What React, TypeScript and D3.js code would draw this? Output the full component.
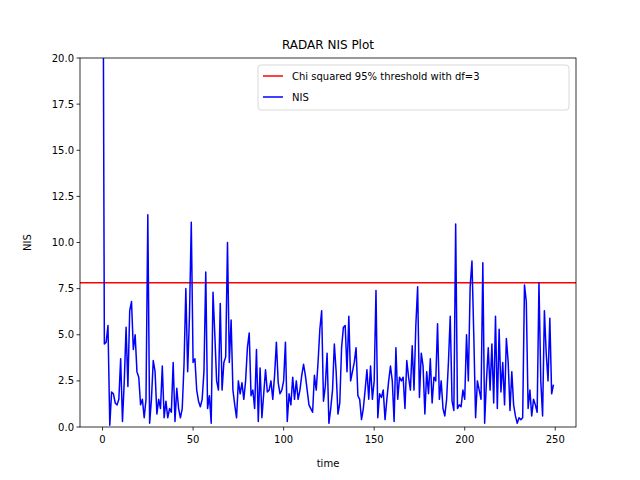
import * as d3 from 'd3';

const NIS: number[] = [
  35, 4.5, 4.6, 5.5, 0.1, 1.9, 1.8, 1.3, 1.2, 1.5, 3.7, 0.3, 2.5, 5.4, 2.2, 6.3, 6.8, 4.2, 5.0, 3.0,
  2.7, 1.2, 1.5, 0.5, 1.5, 11.5, 0.2, 1.5, 3.6, 3.0, 0.7, 1.5, 1.0, 3.3, 0.5, 1.4, 0.5, 1.0, 0.8, 3.5,
  0.3, 2.1, 1.0, 0.5, 1.0, 3.4, 7.5, 3.0, 6.0, 11.1, 3.5, 3.7, 2.0, 1.4, 1.1, 1.5, 3.0, 8.4, 1.0, 1.7,
  0.2, 7.3, 5.0, 2.5, 2.0, 6.7, 2.0, 3.5, 3.8, 10.0, 3.5, 5.8, 2.0, 1.2, 0.5, 2.5, 1.8, 2.4, 1.5, 2.5,
  4.3, 5.1, 1.7, 2.0, 1.0, 4.2, 0.3, 3.2, 0.5, 1.8, 3.1, 1.9, 2.0, 2.5, 1.5, 2.8, 4.6, 2.4, 1.8, 2.0,
  2.5, 4.6, 0.3, 1.8, 1.2, 2.7, 1.5, 2.5, 1.5, 2.0, 2.8, 3.4, 2.8, 2.0, 1.2, 1.0, 0.8, 2.8, 2.0, 3.5,
  5.3, 6.3, 1.4, 2.2, 4.0, 0.2, 1.0, 2.0, 4.5, 3.0, 0.7, 1.3, 4.3, 5.4, 5.5, 3.0, 6.0, 2.5, 3.0, 3.5,
  4.3, 1.7, 1.5, 0.4, 1.0, 2.0, 3.1, 1.5, 3.3, 1.5, 2.5, 7.4, 0.5, 1.8, 1.6, 2.0, 0.4, 1.5, 2.5, 3.3,
  2.5, 0.3, 4.3, 1.5, 2.7, 2.5, 2.7, 1.0, 3.6, 2.7, 2.0, 4.4, 2.0, 5.5, 7.6, 1.6, 4.0, 3.3, 0.7, 3.0,
  1.8, 3.7, 1.3, 2.7, 2.5, 5.6, 1.5, 2.5, 1.0, 0.6, 1.5, 3.5, 6.0, 1.4, 0.9, 11.0, 1.0, 1.2, 1.1, 2.0,
  1.5, 5.0, 2.5, 7.6, 9.0, 5.0, 0.5, 2.5, 2.0, 1.5, 8.9, 0.2, 2.5, 4.3, 2.0, 4.5, 1.3, 6.0, 1.0, 5.3,
  1.9, 3.5, 1.2, 4.8, 3.5, 0.9, 3.0, 1.2, 0.6, 0.2, 0.5, 0.4, 0.5, 7.7, 6.8, 1.0, 2.0, 0.6, 1.5, 1.2,
  0.8, 7.8, 2.5, 0.6, 6.3, 4.0, 2.5, 5.9, 1.8, 2.3,
];
const THRESHOLD = 7.815;
const X_TICKS = [0, 50, 100, 150, 200, 250];
const Y_TICKS = [0, 2.5, 5, 7.5, 10, 12.5, 15, 17.5, 20];

const W = 640, H = 480;
const M = { left: 80, right: 64, top: 58, bottom: 53 };
const FONT = 'DejaVu Sans, sans-serif';

export default function App() {
  const n = NIS.length - 1;
  const pad = n * 0.05;
  const x = d3.scaleLinear().domain([-pad, n + pad]).range([M.left, W - M.right]);
  const y = d3.scaleLinear().domain([0, 20]).range([H - M.bottom, M.top]);
  const line = d3.line<number>().x((_, i) => x(i)).y(d => y(d));
  const x0 = M.left, x1 = W - M.right, y0 = H - M.bottom, y1 = M.top;

  return (
    <svg width={W} height={H} style={{ position: 'absolute', left: 0, top: 0, background: '#fff' }} fontFamily={FONT}>
      <defs>
        <clipPath id="plot"><rect x={x0} y={y1} width={x1 - x0} height={y0 - y1} /></clipPath>
      </defs>
      <g clipPath="url(#plot)">
        <line x1={x0} x2={x1} y1={y(THRESHOLD)} y2={y(THRESHOLD)} stroke="#ff0000" strokeWidth={1.5} />
        <path d={line(NIS) ?? ''} fill="none" stroke="#0000ff" strokeWidth={1.5} strokeLinejoin="round" />
      </g>
      <rect x={x0} y={y1} width={x1 - x0} height={y0 - y1} fill="none" stroke="#000" strokeWidth={0.8} />
      {X_TICKS.map(t => (
        <g key={t} transform={`translate(${x(t)},${y0})`}>
          <line y2={3.5} stroke="#000" strokeWidth={0.8} />
          <text y={16} textAnchor="middle" fontSize={10}>{t}</text>
        </g>
      ))}
      {Y_TICKS.map(t => (
        <g key={t} transform={`translate(${x0},${y(t)})`}>
          <line x2={-3.5} stroke="#000" strokeWidth={0.8} />
          <text x={-6} dy="0.35em" textAnchor="end" fontSize={10}>{t.toFixed(1)}</text>
        </g>
      ))}
      <text x={(x0 + x1) / 2} y={467} textAnchor="middle" fontSize={10}>time</text>
      <text transform={`translate(31,${(y0 + y1) / 2}) rotate(-90)`} textAnchor="middle" fontSize={10}>NIS</text>
      <text x={(x0 + x1) / 2} y={49} textAnchor="middle" fontSize={12}>RADAR NIS Plot</text>
      <g transform="translate(258,65)">
        <rect width={311} height={45} rx={3} fill="#fff" stroke="#ccc" strokeWidth={0.8} opacity={0.9} />
        <line x1={5} x2={25} y1={11} y2={11} stroke="#ff0000" strokeWidth={1.5} />
        <text x={34} y={15} fontSize={10}>Chi squared 95% threshold with df=3</text>
        <line x1={5} x2={25} y1={32} y2={32} stroke="#0000ff" strokeWidth={1.5} />
        <text x={34} y={36} fontSize={10}>NIS</text>
      </g>
    </svg>
  );
}
